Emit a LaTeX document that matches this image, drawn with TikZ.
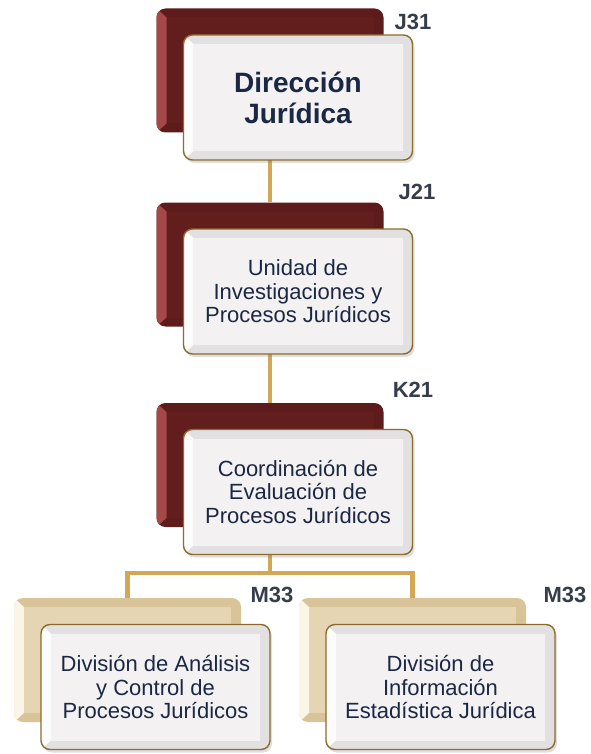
\documentclass[tikz,border=0pt]{standalone}
\usepackage{fontspec}
\setmainfont{Liberation Sans}
\usetikzlibrary{positioning,shadows,backgrounds}
\definecolor{Maroon}{HTML}{5E1B1B}
\definecolor{MaroonIn}{HTML}{621D1D}
\definecolor{MaroonLt}{HTML}{A54848}
\definecolor{Tan}{HTML}{D9C398}
\definecolor{TanIn}{HTML}{E6D5B2}
\definecolor{TanLt}{HTML}{FBF5E8}
\definecolor{Gold}{HTML}{D3A755}
\definecolor{Rim}{HTML}{8C6C2C}
\definecolor{Paper}{HTML}{F3F1F1}
\definecolor{PaperDk}{HTML}{E2E0E0}
\definecolor{PaperLt}{HTML}{FCFCFC}
\definecolor{Ink}{HTML}{1B2844}
\definecolor{Code}{HTML}{353D4A}

% bevel: #1 light left strip, #2 inner face
\newcommand{\boxbevel}[2]{%
  \fill[#1,sharp corners] (path picture bounding box.north west)
    -- ([shift={(10pt,-9pt)}]path picture bounding box.north west)
    -- ([shift={(10pt,9pt)}]path picture bounding box.south west)
    -- (path picture bounding box.south west) -- cycle;
  \fill[#2,sharp corners] ([shift={(10pt,-9pt)}]path picture bounding box.north west)
    rectangle ([shift={(-10pt,9pt)}]path picture bounding box.south east);}

\tikzset{
  backbox/.style={rounded corners=9pt,minimum width=227pt,minimum height=124pt,inner sep=0pt},
  maroonbox/.style={backbox,fill=Maroon,path picture={\boxbevel{MaroonLt}{MaroonIn}}},
  tanbox/.style={backbox,fill=Tan,path picture={\boxbevel{TanLt}{TanIn}}},
  frontbox/.style={rounded corners=9pt,minimum width=229pt,minimum height=125pt,inner sep=2pt,
    draw=Rim,line width=1.4pt,fill=PaperDk,text=Ink,align=center,
    font=\fontsize{22}{23.5}\selectfont,
    drop shadow={shadow xshift=2pt,shadow yshift=-3pt,opacity=0.25},
    path picture={\boxbevel{PaperLt}{Paper}}},
  title/.style={font=\fontsize{28}{31}\selectfont\bfseries},
  code/.style={font=\fontsize{22}{24}\selectfont\bfseries,text=Code},
  link/.style={draw=Gold,line width=4.5pt}
}

\begin{document}
\begin{tikzpicture}[x=1pt,y=-1pt]
  \useasboundingbox (0,0) rectangle (590,754);
  % back boxes
  \node[maroonbox] (b1) at (270,70.5) {};
  \node[maroonbox] (b2) at (270,264.5) {};
  \node[maroonbox] (b3) at (270,465) {};
  \node[tanbox] (b4) at (127.5,660) {};
  \node[tanbox] (b5) at (412.5,660) {};
  % front boxes
  \node[frontbox,title] (f1) at ([shift={(28,27)}]b1.center) {Dirección\\Jurídica};
  \node[frontbox] (f2) at ([shift={(28,27)}]b2.center) {Unidad de\\Investigaciones y\\Procesos Jurídicos};
  \node[frontbox] (f3) at ([shift={(28,27)}]b3.center) {Coordinación de\\Evaluación de\\Procesos Jurídicos};
  \node[frontbox] (f4) at ([shift={(28,27)}]b4.center) {División de Análisis\\y Control de\\Procesos Jurídicos};
  \node[frontbox] (f5) at ([shift={(28,27)}]b5.center) {División de\\Información\\Estadística Jurídica};
  % codes
  \node[code] (c1) at (413,22) {J31};
  \node[code] (c2) at (417,192) {J21};
  \node[code] (c3) at (413,390) {K21};
  \node[code] (c4) at (272,595) {M33};
  \node[code] (c5) at (565,595) {M33};
  % links, behind the boxes
  \begin{scope}[on background layer]
    \draw[link] (b1.south) -- (b2.north);
    \draw[link] (b2.south) -- (b3.north);
    \draw[link] (b3.south) -- ++(0,46) coordinate (bus);
    \draw[link] (b4.north) |- (bus) -| (b5.north);
  \end{scope}
\end{tikzpicture}
\end{document}
